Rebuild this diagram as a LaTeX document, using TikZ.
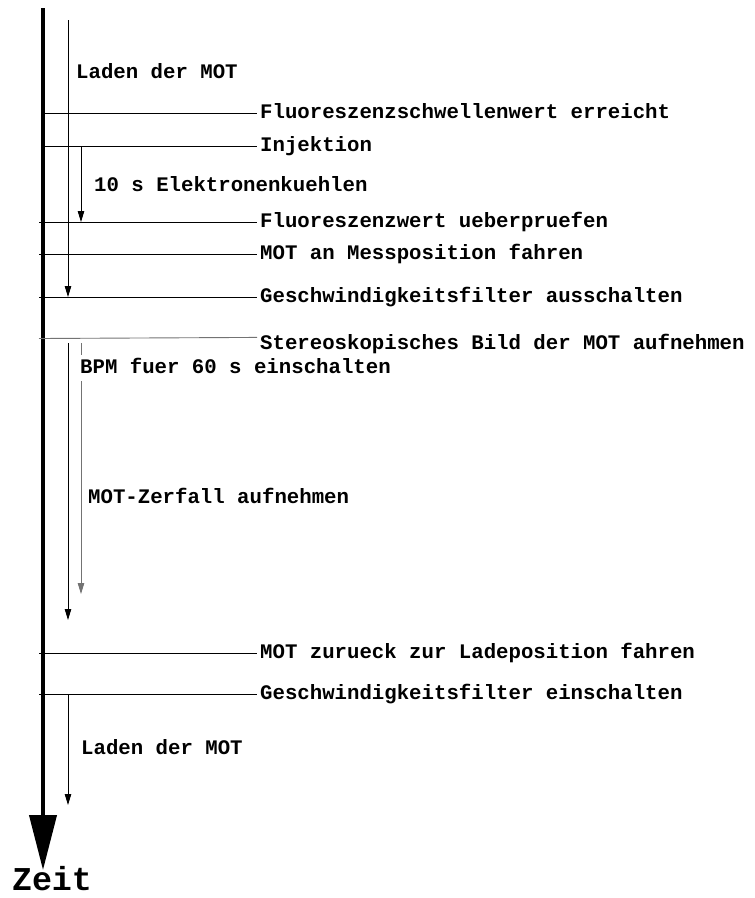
\documentclass[tikz,border=0pt]{standalone}
\usepackage{fontspec}
\setmonofont{Liberation Mono}
\usetikzlibrary{arrows.meta}
\newcommand{\eventfont}{\fontsize{20.7}{24}\selectfont\ttfamily\bfseries}
\newcommand{\axisfont}{\fontsize{33.3}{36}\selectfont\ttfamily\bfseries}
\colorlet{bpmgray}{black!55}

\begin{document}
\begin{tikzpicture}[x=1pt,y=-1pt,
    event/.style={anchor=west,inner xsep=3pt,inner ysep=0pt,
      text height=11.8pt,text depth=0pt,font=\eventfont},
    tick/.style={line width=0.9pt},
    span/.style={line width=0.9pt,-{Triangle[length=11pt,width=6.5pt]}}]
  \useasboundingbox (0,0) rectangle (755,898);

  % time axis
  \coordinate (t0) at (43,8);
  \coordinate (t1) at (43,870);
  \draw[line width=4pt,-{Triangle[length=55pt,width=27pt]}] (t0) -- (t1);
  \node[font=\axisfont,anchor=base,inner sep=0pt] (zeit) at (52,890.7) {Zeit};

  % events
  \node[event] (fluo)  at (257,113) {Fluoreszenzschwellenwert erreicht};
  \node[event] (inj)   at (257,146) {Injektion};
  \node[event] (check) at (257,222) {Fluoreszenzwert ueberpruefen};
  \node[event] (move)  at (257,254) {MOT an Messposition fahren};
  \node[event] (off)   at (257,297) {Geschwindigkeitsfilter ausschalten};
  \node[event] (stereo) at (257,343.5) {Stereoskopisches Bild der MOT aufnehmen};
  \node[event] (back)  at (257,653) {MOT zurueck zur Ladeposition fahren};
  \node[event] (on)    at (257,694) {Geschwindigkeitsfilter einschalten};

  \coordinate (fluo0)  at (45,113);
  \coordinate (inj0)   at (45,146);
  \coordinate (check0) at (39,222);
  \coordinate (move0)  at (39,254);
  \coordinate (off0)   at (39,297);
  \coordinate (stereo0) at (39,338.5);
  \coordinate (back0)  at (39,653);
  \coordinate (on0)    at (39,694);

  \draw[tick] (fluo0) -- (fluo.west);
  \draw[tick] (inj0) -- (inj.west);
  \draw[tick] (check0) -- (check.west);
  \draw[tick] (move0) -- (move.west);
  \draw[tick] (off0) -- (off.west);
  \draw[tick,bpmgray] (stereo0) -- (stereo.north west);
  \draw[tick] (back0) -- (back.west);
  \draw[tick] (on0) -- (on.west);

  % phases
  \node[event] (load)  at (73,73) {Laden der MOT};
  \node[event] (cool)  at (91,186) {10 s Elektronenkuehlen};
  \node[event,inner ysep=7pt] (bpm) at (77,368) {BPM fuer 60 s einschalten};
  \node[event] (decay) at (85,498) {MOT-Zerfall aufnehmen};
  \node[event] (reload) at (78,749) {Laden der MOT};

  \coordinate (load0) at (68,20);
  \coordinate (load1) at (68,297);
  \coordinate (cool0) at (81,146);
  \coordinate (cool1) at (81,222);
  \coordinate (decay0) at (68,343);
  \coordinate (decay1) at (68,620);
  \coordinate (bpm0) at (81,343);
  \coordinate (bpm1) at (81,594);
  \coordinate (reload0) at (68,694);
  \coordinate (reload1) at (68,805);

  \draw[span] (load0) -- (load1);
  \draw[span] (cool0) -- (cool1);
  \draw[span] (decay0) -- (decay1);
  \draw[tick,bpmgray] (bpm0) -- (bpm0 |- bpm.north);
  \draw[span,bpmgray] (bpm0 |- bpm.south) -- (bpm1);
  \draw[span] (reload0) -- (reload1);
\end{tikzpicture}
\end{document}
